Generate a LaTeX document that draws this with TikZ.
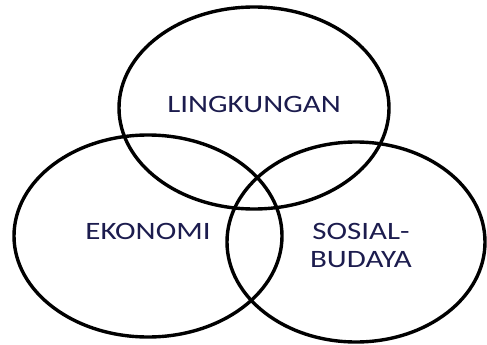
\documentclass[tikz,border=0pt]{standalone}
\usepackage{fontspec}
\setmainfont{Carlito}
\usepackage{graphicx}
\definecolor{txt}{RGB}{28,28,78}
\begin{document}
\begin{tikzpicture}[x=1pt,y=-1pt,
  ring/.style={draw=black,line width=3.4pt},
  lab/.style={text=txt,font=\fontsize{25}{28}\selectfont,align=center,inner sep=0pt}]
\useasboundingbox (0,0) rectangle (487,345);
\draw[ring] (254,108) ellipse [x radius=135, y radius=101];
\draw[ring] (148,236) ellipse [x radius=134, y radius=101];
\draw[ring] (356,242) ellipse [x radius=129, y radius=100];
\node[lab] (ling) at (254,104) {\scalebox{1.24}[1]{LINGKUNGAN}};
\node[lab] (eko) at (148,231) {\scalebox{1.24}[1]{EKONOMI}};
\node[lab] (sos) at (361,245) {\scalebox{1.24}[1]{SOSIAL-}\\[0pt]\scalebox{1.24}[1]{BUDAYA}};
\end{tikzpicture}
\end{document}
